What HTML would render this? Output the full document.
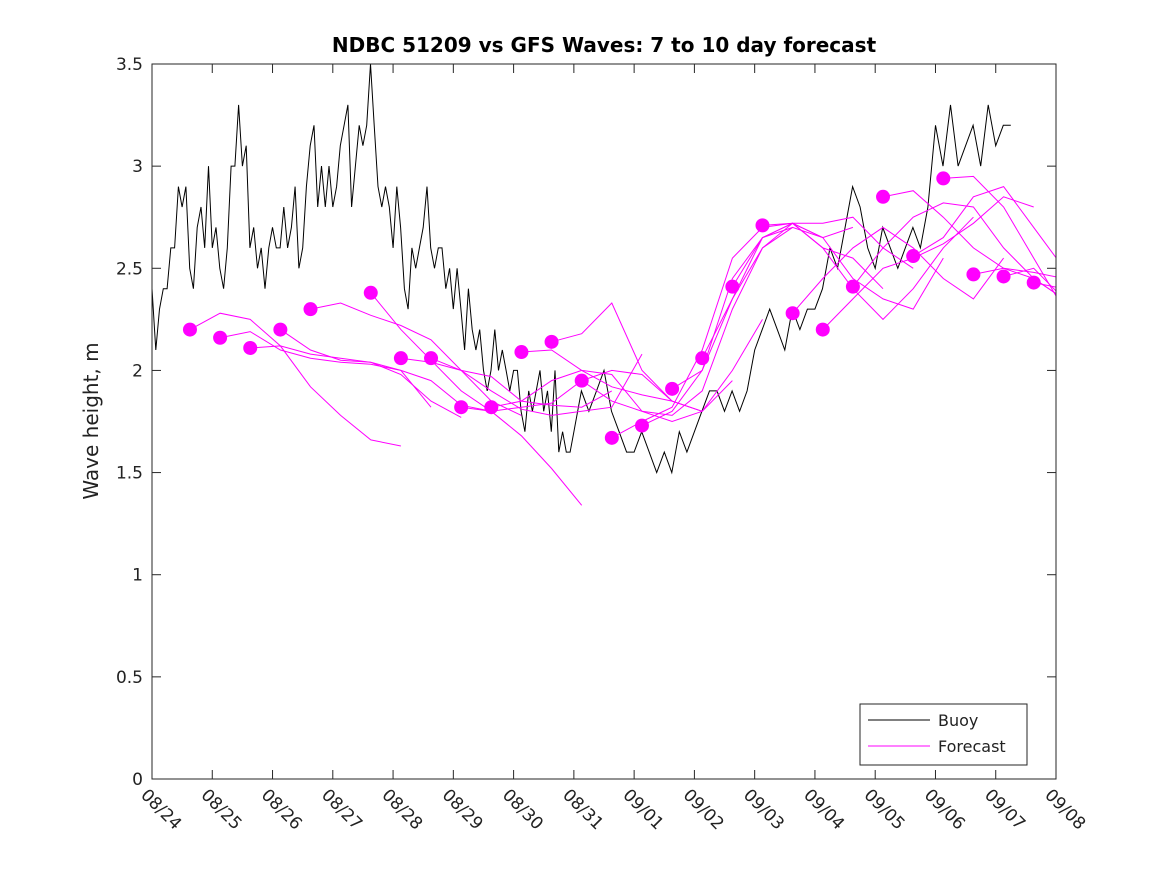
<!DOCTYPE html>
<html><head><meta charset="utf-8"><style>
body{margin:0;background:#fff}
svg{display:block;font-family:"DejaVu Sans","Liberation Sans",sans-serif}
</style></head><body>
<svg id="chart" width="1167" height="875" viewBox="0 0 1167 875" xmlns="http://www.w3.org/2000/svg">
<rect width="1167" height="875" fill="#fff"/>
<defs><clipPath id="pc"><rect x="152" y="64" width="904" height="715"/></clipPath></defs>
<text x="604" y="52" text-anchor="middle" font-size="20" font-weight="bold" fill="#000">NDBC 51209 vs GFS Waves: 7 to 10 day forecast</text>
<text transform="translate(98,421) rotate(-90)" text-anchor="middle" font-size="20" fill="#222">Wave height, m</text>
<g id="axes"></g>
<g id="series" clip-path="url(#pc)"></g>
<rect x="152" y="64" width="904" height="715" fill="none" stroke="#262626" stroke-width="1"/>
<g>
<rect x="860" y="704" width="167" height="61" fill="#fff" stroke="#262626" stroke-width="1"/>
<line x1="868" y1="720" x2="930" y2="720" stroke="#000" stroke-width="1"/>
<text x="938" y="726" font-size="16" fill="#222">Buoy</text>
<line x1="868" y1="746" x2="930" y2="746" stroke="#ff00ff" stroke-width="1"/>
<text x="938" y="752" font-size="16" fill="#222">Forecast</text>
</g>
</svg>
<script>
const xTickLabels=["08/24","08/25","08/26","08/27","08/28","08/29","08/30","08/31","09/01","09/02","09/03","09/04","09/05","09/06","09/07","09/08"];
const yTicks=[0,0.5,1,1.5,2,2.5,3,3.5];
const yTickLabels=["0","0.5","1","1.5","2","2.5","3","3.5"];
// buoy: days 0-6 in half-day chunks (1.5h steps), then 3-hourly per day
const buoyDay0=[2.4,2.1,2.3,2.4,2.4,2.6,2.6,2.9];
const buoyDay0b=[2.8,2.9,2.5,2.4,2.7,2.8,2.6,3.0];
const buoyDay1=[2.6,2.7,2.5,2.4,2.6,3.0,3.0,3.3];
const buoyDay1b=[3.0,3.1,2.6,2.7,2.5,2.6,2.4,2.6];
const buoyDay2=[2.7,2.6,2.6,2.8,2.6,2.7,2.9,2.5];
const buoyDay2b=[2.6,2.9,3.1,3.2,2.8,3.0,2.8,3.0];
const buoyDay3=[2.8,2.9,3.1,3.2,3.3,2.8,3.0,3.2];
const buoyDay3b=[3.1,3.2,3.5,3.2,2.9,2.8,2.9,2.8];
const buoyDay4=[2.6,2.9,2.7,2.4,2.3,2.6,2.5,2.6];
const buoyDay4b=[2.7,2.9,2.6,2.5,2.6,2.6,2.4,2.5];
const buoyDay5=[2.3,2.5,2.3,2.1,2.4,2.2,2.1,2.2];
const buoyDay5b=[2.0,1.9,2.0,2.2,2.0,2.1,2.0,1.9];
const buoyDay6=[2.0,2.0,1.8,1.7,1.9,1.8,1.9,2.0];
const buoyDay6b=[1.8,1.9,1.7,2.0,1.6,1.7,1.6,1.6];
const buoyDay7=[1.7,1.9,1.8,1.9,2.0,1.8,1.7,1.6];
const buoyDay8=[1.6,1.7,1.6,1.5,1.6,1.5,1.7,1.6];
const buoyDay9=[1.7,1.8,1.9,1.9,1.8,1.9,1.8,1.9];
const buoyDay10=[2.1,2.2,2.3,2.2,2.1,2.3,2.2,2.3];
const buoyDay11=[2.3,2.4,2.6,2.5,2.7,2.9,2.8,2.6];
const buoyDay12=[2.5,2.7,2.6,2.5,2.6,2.7,2.6,2.8];
const buoyDay13=[3.2,3.0,3.3,3.0,3.1,3.2,3.0,3.3];
const buoyDay14=[3.1,3.2,3.2];
// forecast start days (days after 08/24 00:00) and half-day values
const fcStart=[0.63,1.13,1.63,2.13,2.63,3.63,4.13,4.63,5.13,5.63,6.13,6.63,7.13,7.63,8.13,8.63,9.13,9.63,10.13,10.63,11.13,11.63,12.13,12.63,13.13,13.63,14.13,14.63];
const fc0=[2.2,2.28,2.25,2.12,1.92,1.78,1.66,1.63];
const fc1=[2.16,2.19,2.1,2.06,2.04,2.03,2.0,1.82];
const fc2=[2.11,2.12,2.08,2.06,2.04,1.98,1.85,1.77];
const fc3=[2.2,2.1,2.05,2.04,2.0,1.95,1.83,1.8];
const fc4=[2.3,2.33,2.27,2.22,2.15,2.0,1.85,1.78];
const fc5=[2.38,2.2,2.05,1.9,1.8,1.68,1.52,1.34];
const fc6=[2.06,2.04,2.0,1.97,1.85,1.83,1.82,1.9];
const fc7=[2.06,2.0,1.9,1.81,1.78,1.8,1.82,2.08];
const fc8=[1.82,1.8,1.82,1.84,1.95,2.0,1.98,1.85];
const fc9=[1.82,1.85,1.95,2.0,1.98,1.8,1.75,1.8];
const fc10=[2.09,2.1,2.0,1.92,1.88,1.85,1.8,1.95];
const fc11=[2.14,2.18,2.33,2.0,1.85,1.8,2.0,2.25];
const fc12=[1.95,1.85,1.8,1.78,1.9,2.3,2.6,2.7];
const fc13=[1.67,1.75,1.82,2.1,2.55,2.7,2.72,2.65];
const fc14=[1.73,1.8,2.0,2.45,2.65,2.7,2.65,2.7];
const fc15=[1.91,2.0,2.35,2.6,2.72,2.6,2.55,2.4];
const fc16=[2.06,2.35,2.65,2.72,2.72,2.75,2.6,2.5];
const fc17=[2.41,2.65,2.72,2.65,2.45,2.35,2.3,2.55];
const fc18=[2.71,2.72,2.6,2.4,2.25,2.4,2.6,2.75];
const fc19=[2.28,2.45,2.6,2.7,2.6,2.45,2.35,2.55];
const fc20=[2.2,2.35,2.5,2.55,2.62,2.72,2.85,2.8];
const fc21=[2.41,2.6,2.75,2.82,2.8,2.6,2.45,2.35];
const fc22=[2.85,2.88,2.75,2.6,2.5,2.48,2.45,2.35];
const fc23=[2.56,2.65,2.85,2.9,2.7,2.5,2.42,2.3];
const fc24=[2.94,2.95,2.8,2.55,2.3,2.0];
const fc25=[2.47,2.5,2.45,2.35,2.1];
const fc26=[2.46,2.5,2.35,2.15];
const fc27=[2.43,2.4,2.3];

const NS="http://www.w3.org/2000/svg";
const X0=152,X1=1056,Y0=779,Y1=64,DAYS=15,YMAX=3.5;
function xs(d){return X0+(X1-X0)*d/DAYS;}
function ys(v){return Y0-(Y0-Y1)*v/YMAX;}
function mk(tag,attrs,parent){const e=document.createElementNS(NS,tag);for(const k in attrs)e.setAttribute(k,attrs[k]);parent.appendChild(e);return e;}
const axes=document.getElementById('axes'),series=document.getElementById('series');
xTickLabels.forEach((lab,i)=>{
  const x=xs(i);
  const t1=mk('line',{x1:x,y1:Y0,x2:x,y2:Y0-9,stroke:'#262626'},axes);
  
  
  const t2=mk('line',{x1:x,y1:Y1,x2:x,y2:Y1+9,stroke:'#262626'},axes);
  
  
  const tx=mk('text',{transform:`translate(${x-12},${Y0+17}) rotate(45)`,'font-size':17,fill:'#222'},axes);
  tx.textContent=lab;
  
  
});
yTicks.forEach((v,i)=>{
  const y=ys(v);
  const t1=mk('line',{x1:X0,y1:y,x2:X0+9,y2:y,stroke:'#262626'},axes);
  
  
  const t2=mk('line',{x1:X1,y1:y,x2:X1-9,y2:y,stroke:'#262626'},axes);
  
  
  const tx=mk('text',{x:X0-9,y:y+6,'text-anchor':'end','font-size':17,fill:'#222'},axes);
  tx.textContent=yTickLabels[i];
  
  
});
const buoy=[].concat(buoyDay0,buoyDay0b,buoyDay1,buoyDay1b,buoyDay2,buoyDay2b,buoyDay3,buoyDay3b,buoyDay4,buoyDay4b,buoyDay5,buoyDay5b,buoyDay6,buoyDay6b,buoyDay7,buoyDay8,buoyDay9,buoyDay10,buoyDay11,buoyDay12,buoyDay13,buoyDay14);
let pts=[];let d=0;
buoy.forEach((v,i)=>{pts.push(xs(d).toFixed(1)+','+ys(v).toFixed(1));d+= i<112?1/16:1/8;});
const bl=mk('polyline',{points:pts.join(' '),fill:'none',stroke:'#000','stroke-width':1},series);


const fcs=[fc0,fc1,fc2,fc3,fc4,fc5,fc6,fc7,fc8,fc9,fc10,fc11,fc12,fc13,fc14,fc15,fc16,fc17,fc18,fc19,fc20,fc21,fc22,fc23,fc24,fc25,fc26,fc27];
fcs.forEach((arr,i)=>{
  const s=fcStart[i];
  const p=arr.map((v,j)=>xs(s+j*0.5).toFixed(1)+','+ys(v).toFixed(1)).join(' ');
  const l=mk('polyline',{points:p,fill:'none',stroke:'#ff00ff','stroke-width':1},series);
  
  
});
fcs.forEach((arr,i)=>{
  const c=mk('circle',{cx:xs(fcStart[i]),cy:ys(arr[0]),r:7,fill:'#ff00ff'},series);
  
  
});
</script>
</body></html>
